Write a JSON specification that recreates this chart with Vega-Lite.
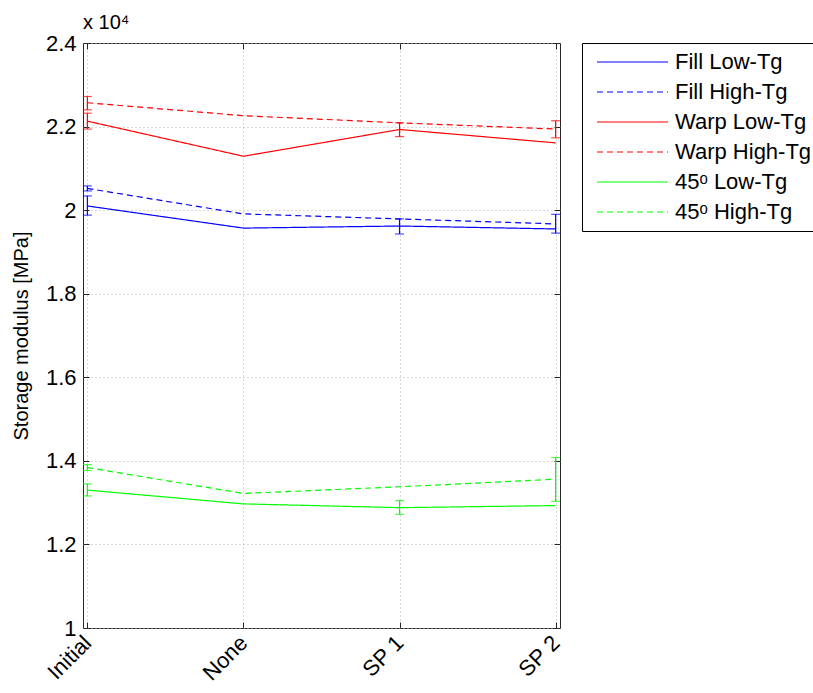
{
  "$schema": "https://vega.github.io/schema/vega-lite/v6.json",
  "autosize": {"type": "none"},
  "padding": {"left": 83, "top": 43, "right": 253, "bottom": 65},
  "width": 477,
  "height": 585,
  "background": "white",
  "title": {"text": "x 10⁴", "anchor": "start", "frame": "group", "fontSize": 20, "fontWeight": "normal", "font": "Liberation Sans", "offset": -1, "color": "#000000"},
  "config": {
    "font": "Liberation Sans",
    "view": {"stroke": "#262626", "strokeWidth": 1},
    "axis": {"domain": false, "tickColor": "#262626", "labelColor": "#000000", "labelFontSize": 22, "labelFont": "Liberation Sans", "titleFont": "Liberation Sans", "titleFontSize": 20, "titleFontWeight": "normal", "titleColor": "#000000", "gridColor": "#b0b0b0", "gridDash": [1, 3], "gridWidth": 1}
  },
  "datasets": {
    "lines": [
      {"series": "Fill Low-Tg", "condition": "Initial", "modulus": 2.010},
      {"series": "Fill Low-Tg", "condition": "None", "modulus": 1.957},
      {"series": "Fill Low-Tg", "condition": "SP 1", "modulus": 1.962},
      {"series": "Fill Low-Tg", "condition": "SP 2", "modulus": 1.955},
      {"series": "Fill High-Tg", "condition": "Initial", "modulus": 2.052},
      {"series": "Fill High-Tg", "condition": "None", "modulus": 1.991},
      {"series": "Fill High-Tg", "condition": "SP 1", "modulus": 1.979},
      {"series": "Fill High-Tg", "condition": "SP 2", "modulus": 1.967},
      {"series": "Warp Low-Tg", "condition": "Initial", "modulus": 2.213},
      {"series": "Warp Low-Tg", "condition": "None", "modulus": 2.129},
      {"series": "Warp Low-Tg", "condition": "SP 1", "modulus": 2.193},
      {"series": "Warp Low-Tg", "condition": "SP 2", "modulus": 2.161},
      {"series": "Warp High-Tg", "condition": "Initial", "modulus": 2.257},
      {"series": "Warp High-Tg", "condition": "None", "modulus": 2.226},
      {"series": "Warp High-Tg", "condition": "SP 1", "modulus": 2.209},
      {"series": "Warp High-Tg", "condition": "SP 2", "modulus": 2.194},
      {"series": "45ᵒ Low-Tg", "condition": "Initial", "modulus": 1.330},
      {"series": "45ᵒ Low-Tg", "condition": "None", "modulus": 1.297},
      {"series": "45ᵒ Low-Tg", "condition": "SP 1", "modulus": 1.288},
      {"series": "45ᵒ Low-Tg", "condition": "SP 2", "modulus": 1.293},
      {"series": "45ᵒ High-Tg", "condition": "Initial", "modulus": 1.384},
      {"series": "45ᵒ High-Tg", "condition": "None", "modulus": 1.322},
      {"series": "45ᵒ High-Tg", "condition": "SP 1", "modulus": 1.338},
      {"series": "45ᵒ High-Tg", "condition": "SP 2", "modulus": 1.356}
    ],
    "errs": [
      {"series": "Fill Low-Tg", "condition": "Initial", "lo": 1.988, "hi": 2.034},
      {"series": "Fill High-Tg", "condition": "Initial", "lo": 2.046, "hi": 2.058},
      {"series": "Warp Low-Tg", "condition": "Initial", "lo": 2.194, "hi": 2.232},
      {"series": "Warp High-Tg", "condition": "Initial", "lo": 2.240, "hi": 2.272},
      {"series": "45ᵒ Low-Tg", "condition": "Initial", "lo": 1.316, "hi": 1.345},
      {"series": "45ᵒ High-Tg", "condition": "Initial", "lo": 1.377, "hi": 1.391},
      {"series": "Fill Low-Tg", "condition": "SP 1", "lo": 1.943, "hi": 1.979},
      {"series": "Warp Low-Tg", "condition": "SP 1", "lo": 2.176, "hi": 2.209},
      {"series": "45ᵒ Low-Tg", "condition": "SP 1", "lo": 1.272, "hi": 1.305},
      {"series": "Fill High-Tg", "condition": "SP 2", "lo": 1.945, "hi": 1.990},
      {"series": "Warp High-Tg", "condition": "SP 2", "lo": 2.173, "hi": 2.214},
      {"series": "45ᵒ High-Tg", "condition": "SP 2", "lo": 1.303, "hi": 1.408}
    ]
  },
  "resolve": {"axis": {"x": "independent", "y": "independent"}},
  "layer": [
    {
      "data": {"name": "lines"},
      "mark": {"type": "line", "strokeWidth": 1.2},
      "encoding": {
        "x": {"field": "condition", "type": "nominal", "sort": ["Initial", "None", "SP 1", "SP 2"], "scale": {"type": "point", "padding": 0.028},
          "axis": {"title": null, "labelAngle": -45, "labelAlign": "right", "labelBaseline": "middle", "tickSize": -6, "labelPadding": 17, "grid": true}},
        "y": {"field": "modulus", "type": "quantitative", "scale": {"domain": [1, 2.4], "nice": false, "zero": false},
          "axis": {"title": "Storage modulus [MPa]", "values": [1, 1.2, 1.4, 1.6, 1.8, 2, 2.2, 2.4], "format": "~g", "tickSize": -6, "labelPadding": 13, "titlePadding": 14, "grid": true}},
        "color": {"field": "series", "type": "nominal",
          "scale": {"domain": ["Fill Low-Tg", "Fill High-Tg", "Warp Low-Tg", "Warp High-Tg", "45ᵒ Low-Tg", "45ᵒ High-Tg"], "range": ["#0000ff", "#0000ff", "#ff0000", "#ff0000", "#00ff00", "#00ff00"]},
          "legend": {"title": null, "orient": "none", "legendX": 499, "legendY": 0, "symbolType": "stroke", "symbolSize": 5041, "symbolStrokeWidth": 1.2, "symbolOffset": 6, "clipHeight": 22, "labelFontSize": 22, "labelFont": "Liberation Sans", "labelColor": "#000000", "strokeColor": "#000000", "fillColor": "white", "padding": 8, "rowPadding": 8, "labelOffset": 6}},
        "strokeDash": {"field": "series", "type": "nominal",
          "scale": {"domain": ["Fill Low-Tg", "Fill High-Tg", "Warp Low-Tg", "Warp High-Tg", "45ᵒ Low-Tg", "45ᵒ High-Tg"], "range": [[1, 0], [6, 4], [1, 0], [6, 4], [1, 0], [6, 4]]},
          "legend": {"title": null, "orient": "none", "legendX": 499, "legendY": 0, "symbolType": "stroke", "symbolSize": 5041, "symbolStrokeWidth": 1.2, "symbolOffset": 6, "clipHeight": 22, "labelFontSize": 22, "labelFont": "Liberation Sans", "labelColor": "#000000", "strokeColor": "#000000", "fillColor": "white", "padding": 8, "rowPadding": 8, "labelOffset": 6}}
      }
    },
    {
      "data": {"name": "lines"},
      "mark": {"type": "point", "opacity": 0},
      "encoding": {
        "x": {"field": "condition", "type": "nominal", "sort": ["Initial", "None", "SP 1", "SP 2"], "axis": {"orient": "top", "labels": false, "title": null, "grid": false, "tickSize": -6}},
        "y": {"field": "modulus", "type": "quantitative", "axis": {"orient": "right", "labels": false, "title": null, "grid": false, "tickSize": -6, "values": [1, 1.2, 1.4, 1.6, 1.8, 2, 2.2, 2.4]}}
      }
    },
    {
      "data": {"name": "errs"},
      "mark": {"type": "rule", "strokeWidth": 1.2},
      "encoding": {
        "x": {"field": "condition", "type": "nominal", "sort": ["Initial", "None", "SP 1", "SP 2"], "axis": null},
        "y": {"field": "lo", "type": "quantitative", "axis": null},
        "y2": {"field": "hi"},
        "color": {"field": "series", "type": "nominal", "legend": null}
      }
    },
    {
      "data": {"name": "errs"},
      "mark": {"type": "tick", "orient": "horizontal", "size": 9, "thickness": 1.2},
      "encoding": {
        "x": {"field": "condition", "type": "nominal", "sort": ["Initial", "None", "SP 1", "SP 2"], "axis": null},
        "y": {"field": "lo", "type": "quantitative", "axis": null},
        "color": {"field": "series", "type": "nominal", "legend": null}
      }
    },
    {
      "data": {"name": "errs"},
      "mark": {"type": "tick", "orient": "horizontal", "size": 9, "thickness": 1.2},
      "encoding": {
        "x": {"field": "condition", "type": "nominal", "sort": ["Initial", "None", "SP 1", "SP 2"], "axis": null},
        "y": {"field": "hi", "type": "quantitative", "axis": null},
        "color": {"field": "series", "type": "nominal", "legend": null}
      }
    }
  ]
}
